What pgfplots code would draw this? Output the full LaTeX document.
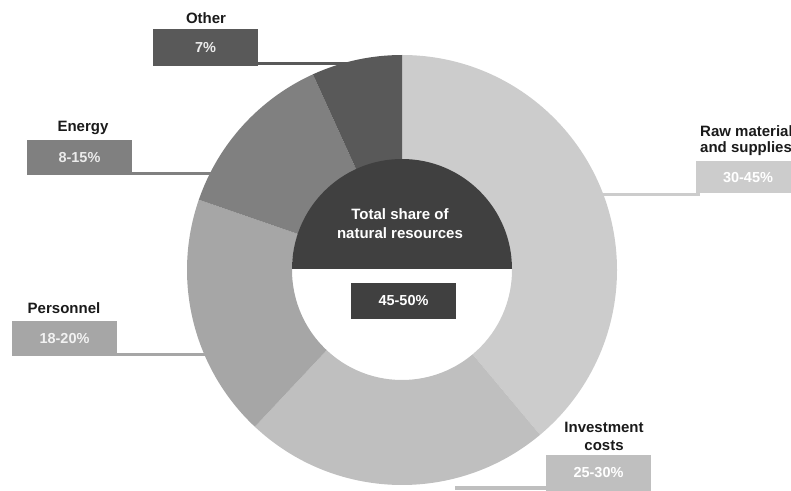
\documentclass[border=0pt]{standalone}
\usepackage{pgfplots}
\pgfplotsset{compat=1.18}
\usepackage{pgfplotstable}
\usepackage{fontspec}
\setmainfont{Liberation Sans}
\definecolor{cRaw}{HTML}{CCCCCC}
\definecolor{cInv}{HTML}{BFBFBF}
\definecolor{cPer}{HTML}{A6A6A6}
\definecolor{cEne}{HTML}{808080}
\definecolor{cOth}{HTML}{595959}
\definecolor{cCen}{HTML}{404040}
\definecolor{cTxt}{HTML}{1A1A1A}

% shares of the ring (percent), clockwise from 12 o'clock
\pgfplotstableread{
slice value
Raw 38.9
Investment 23.1
Personnel 18.3
Energy 12.9
Other 6.8
}\shares

\newcommand\ringsector[3]{%
  \fill[#3] ([shift={(#1:215pt)}]axis cs:402,220) arc[start angle=#1, end angle=#2, radius=215pt]
    -- ([shift={(#2:110pt)}]axis cs:402,220) arc[start angle=#2, end angle=#1, radius=110pt] -- cycle;}

\begin{document}
\begin{tikzpicture}
\pgfmathsetmacro\aA{90}
\pgfplotstablegetelem{0}{value}\of\shares \pgfmathsetmacro\aB{\aA-3.6*\pgfplotsretval}
\pgfplotstablegetelem{1}{value}\of\shares \pgfmathsetmacro\aC{\aB-3.6*\pgfplotsretval}
\pgfplotstablegetelem{2}{value}\of\shares \pgfmathsetmacro\aD{\aC-3.6*\pgfplotsretval}
\pgfplotstablegetelem{3}{value}\of\shares \pgfmathsetmacro\aE{\aD-3.6*\pgfplotsretval}
\pgfplotstablegetelem{4}{value}\of\shares \pgfmathsetmacro\aF{\aE-3.6*\pgfplotsretval}
\begin{axis}[
  at={(0,0)}, anchor=south west,
  scale only axis, width=791pt, height=490pt,
  xmin=0, xmax=791, ymin=0, ymax=490,
  hide axis, clip=true,
]
% leader lines
\fill[cOth] (axis cs:250,425) rectangle (axis cs:365,428);
\fill[cEne] (axis cs:103,315) rectangle (axis cs:235,318);
\fill[cPer] (axis cs:110,134) rectangle (axis cs:225,137);
\fill[cRaw] (axis cs:580,294) rectangle (axis cs:700,297);
\fill[cInv] (axis cs:455,0) rectangle (axis cs:550,4);
% ring
\ringsector{\aA}{\aB}{cRaw}
\ringsector{\aB}{\aC}{cInv}
\ringsector{\aC}{\aD}{cPer}
\ringsector{\aD}{\aE}{cEne}
\ringsector{\aE}{\aF}{cOth}
% centre
\fill[cCen] ([shift={(0:110pt)}]axis cs:402,221) arc[start angle=0, end angle=180, radius=110pt] -- cycle;
\node[font=\bfseries\fontsize{15}{19}\selectfont, text=white, align=center] at (axis cs:400,266) {Total share of\\natural resources};
\fill[cCen] (axis cs:351,171) rectangle (axis cs:456,207);
\node[font=\bfseries\fontsize{14.5}{17}\selectfont, text=white] at (axis cs:403.5,189) {45-50\%};
% boxes
\fill[cOth] (axis cs:153,424) rectangle (axis cs:258,461);
\fill[cEne] (axis cs:27,315) rectangle (axis cs:132,350);
\fill[cPer] (axis cs:12,134) rectangle (axis cs:117,169);
\fill[cRaw] (axis cs:696,297) rectangle (axis cs:801,329);
\fill[cInv] (axis cs:546,-5) rectangle (axis cs:651,35);
% values
\node[font=\bfseries\fontsize{14.5}{17}\selectfont, text=white!92!black] at (axis cs:205.5,442.5) {7\%};
\node[font=\bfseries\fontsize{14.5}{17}\selectfont, text=white!92!black] at (axis cs:79.5,332.5) {8-15\%};
\node[font=\bfseries\fontsize{14.5}{17}\selectfont, text=white!95!black] at (axis cs:64.5,151.5) {18-20\%};
\node[font=\bfseries\fontsize{14.5}{17}\selectfont, text=white] at (axis cs:748,312) {30-45\%};
\node[font=\bfseries\fontsize{14.5}{17}\selectfont, text=white] at (axis cs:598.5,17) {25-30\%};
% titles
\node[font=\bfseries\fontsize{15}{18}\selectfont, text=cTxt] at (axis cs:206,472) {Other};
\node[font=\bfseries\fontsize{15}{18}\selectfont, text=cTxt] at (axis cs:83,362) {Energy};
\node[font=\bfseries\fontsize{15}{18}\selectfont, text=cTxt] at (axis cs:64,182) {Personnel};
\node[font=\bfseries\fontsize{15}{18}\selectfont, text=cTxt, anchor=west, inner xsep=0pt] at (axis cs:700,359) {Raw materials};
\node[font=\bfseries\fontsize{15}{18}\selectfont, text=cTxt, anchor=west, inner xsep=0pt] at (axis cs:700,341) {and supplies};
\node[font=\bfseries\fontsize{15}{18}\selectfont, text=cTxt, align=center] at (axis cs:604,54) {Investment\\costs};
\end{axis}
\pgfresetboundingbox
\useasboundingbox (0,0) rectangle (791pt,490pt);
\end{tikzpicture}
\end{document}
